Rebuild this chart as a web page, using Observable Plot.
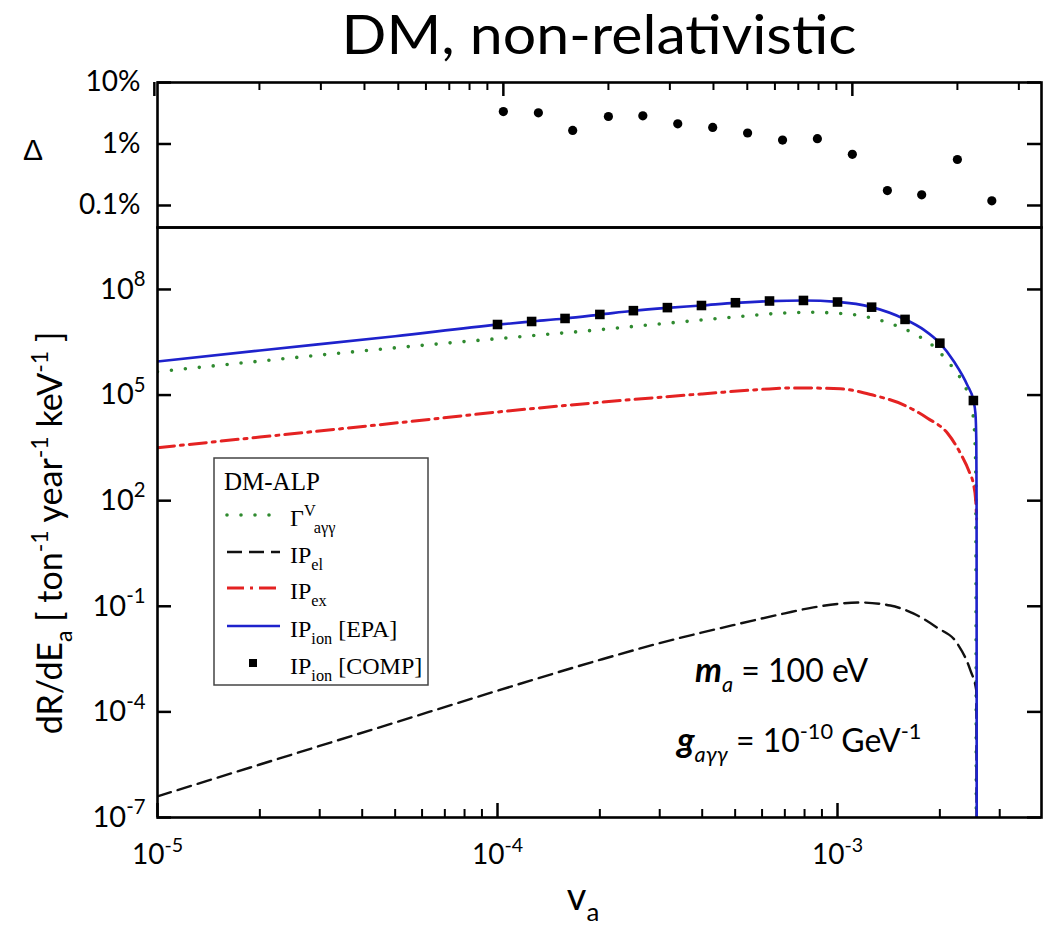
<!DOCTYPE html>
<html><head><meta charset="utf-8">
<script src="https://cdn.jsdelivr.net/npm/d3@7"></script>
<script src="https://cdn.jsdelivr.net/npm/@observablehq/plot@0.6"></script>
<style>
body{margin:0;background:#fff;}
#wrap{position:relative;width:1050px;height:930px;overflow:hidden;background:#fff;}
#wrap svg{position:absolute;left:0;overflow:visible;}
</style></head>
<body><div id="wrap"></div>
<script>
// ---------- data ----------
const xMajor = [1e-5, 1e-4, 1e-3];
const xMajorLabels = ["10^-5", "10^-4", "10^-3"];
const xMinor = [2e-5,3e-5,4e-5,5e-5,6e-5,7e-5,8e-5,9e-5,2e-4,3e-4,4e-4,5e-4,6e-4,7e-4,8e-4,9e-4,2e-3,3e-3];
const yMainTicks = [1e-7, 1e-4, 1e-1, 1e2, 1e5, 1e8];
const yMainLabels = ["10^-7", "10^-4", "10^-1", "10^2", "10^5", "10^8"];
const deltaTicks = [0.001, 0.01, 0.1];
const deltaLabels = ["0.1%", "1%", "10%"];

// top panel: relative difference Delta
const deltaV = [1.0e-4,1.26e-4,1.58e-4,2.0e-4,2.51e-4,3.16e-4,3.98e-4,5.01e-4,6.31e-4,7.94e-4,1.0e-3,1.26e-3,1.58e-3,2.0e-3,2.51e-3];
const deltaVal = [0.0337,0.0321,0.0166,0.0280,0.0287,0.0213,0.0186,0.0151,0.0116,0.0122,0.00678,0.00175,0.00149,0.0056,0.00119];

// IP_ion [COMP] squares
const compV = [1.0e-4,1.26e-4,1.58e-4,2.0e-4,2.51e-4,3.16e-4,3.98e-4,5.01e-4,6.31e-4,7.94e-4,1.0e-3,1.26e-3,1.58e-3,2.0e-3,2.51e-3];
const compRate = [1.01e7,1.23e7,1.5e7,1.95e7,2.5e7,3.05e7,3.5e7,4.2e7,4.7e7,4.87e7,4.4e7,3.14e7,1.41e7,2.98e6,7.0e4];

// IP_ion [EPA] blue
const ionV = [1e-5,2e-5,5e-5,1e-4,1.26e-4,1.58e-4,2e-4,2.51e-4,3.16e-4,3.98e-4,5.01e-4,6.31e-4,7.94e-4,1e-3,1.26e-3,1.58e-3,1.8e-3,2e-3,2.2e-3,2.41e-3,2.51e-3,2.545e-3,2.56e-3,2.565e-3,2.567e-3];
const ionRate = [9.0e5,1.85e6,4.7e6,1.0e7,1.23e7,1.5e7,1.93e7,2.48e7,3.0e7,3.5e7,4.15e7,4.65e7,4.85e7,4.45e7,3.15e7,1.42e7,7.0e6,3.0e6,9.0e5,1.9e5,7.0e4,3.0e4,5.0e3,1.0e2,1e-7];

// Gamma^V_{a gamma gamma} green dotted
const gamV = [1e-5,2e-5,5e-5,1e-4,2e-4,3e-4,5e-4,7e-4,8.5e-4,1e-3,1.17e-3,1.43e-3,1.72e-3,1.91e-3,2.11e-3,2.3e-3,2.41e-3,2.51e-3,2.55e-3,2.56e-3];
const gamRate = [4.6e5,9.2e5,2.2e6,4.0e6,7.2e6,1.05e7,1.65e7,2.15e7,2.25e7,2.1e7,1.8e7,1.08e7,4.9e6,2.5e6,9.0e5,3.0e5,1.2e5,2.3e4,1.0e3,1e-7];

// IP_ex red dash-dot
const exV = [1e-5,2e-5,5e-5,1e-4,2e-4,4e-4,6e-4,7.5e-4,1.02e-3,1.27e-3,1.57e-3,1.84e-3,2.11e-3,2.3e-3,2.45e-3,2.51e-3,2.55e-3,2.565e-3];
const exRate = [3.2e3,6.4e3,1.6e4,3.3e4,6.2e4,1.08e5,1.45e5,1.6e5,1.5e5,1.0e5,5.2e4,2.2e4,8.1e3,2.2e3,6.0e2,3.0e2,1.0e2,3.0e1];

// IP_el black dashed
const elV = [1e-5,2e-5,5e-5,1e-4,2e-4,3e-4,5e-4,7e-4,8.5e-4,1.17e-3,1.43e-3,1.67e-3,1.96e-3,2.25e-3,2.46e-3,2.56e-3,2.565e-3];
const elRate = [4e-7,3.2e-6,5e-5,4e-4,3e-3,9e-3,3e-2,6.3e-2,9.3e-2,0.128,0.105,0.063,0.025,8.8e-3,1.5e-3,4e-4,1e-7];

(function () {
// ---------- tables ----------
const rows = (xs, ys) => xs.map((v, i) => ({v, r: ys[i]}));
const deltaRows = rows(deltaV, deltaVal);
const compRows = rows(compV, compRate);
const ionRows = rows(ionV, ionRate);
const gamRows = rows(gamV, gamRate);
const exRows = rows(exV, exRate);
const elRows = rows(elV, elRate);

const C = {green: "#2f8a2f", red: "#e42222", blue: "#1e22cc", black: "#111"};
const xDomain = [1e-5, Math.pow(10, -2.4)];
// the Delta panel in the original figure is pasted slightly stretched/offset horizontally
const xDomainTop = [Math.pow(10, -4.991), Math.pow(10, -2.458)];
const baseStyle = {fontFamily: "Lato, sans-serif", fontSize: "28px", color: "black", background: "transparent", overflow: "visible"};
const mainH = 590, topH = 145, frameW = 884;

const wrap = document.getElementById("wrap");

// ---------- main panel ----------
const mainPlot = Plot.plot({
  width: 1050, height: 705, marginTop: 2, marginBottom: 113, marginLeft: 157, marginRight: 9,
  style: baseStyle,
  x: {type: "log", domain: xDomain},
  y: {type: "log", domain: [1e-7, Math.pow(10, 9.76)]},
  marks: [
    Plot.line(gamRows, {x: "v", y: "r", stroke: C.green, strokeWidth: 3.6, strokeDasharray: "0 14", strokeLinecap: "round", curve: "monotone-x", clip: true}),
    Plot.line(elRows, {x: "v", y: "r", stroke: C.black, strokeWidth: 2.4, strokeDasharray: "14 7", curve: "monotone-x", clip: true}),
    Plot.line(exRows, {x: "v", y: "r", stroke: C.red, strokeWidth: 3, strokeDasharray: "17 6 3 6", curve: "monotone-x", clip: true}),
    Plot.line(ionRows, {x: "v", y: "r", stroke: C.blue, strokeWidth: 2.6, curve: "monotone-x", clip: true}),
    Plot.dot(compRows, {x: "v", y: "r", symbol: "square", r: 5.4, fill: "black", stroke: "none"}),
    Plot.tickX(xMajor, {x: d => d, insetTop: mainH - 14, strokeWidth: 2.5}),
    Plot.tickX(xMinor, {x: d => d, insetTop: mainH - 8, strokeWidth: 2}),
    Plot.tickY(yMainTicks, {y: d => d, insetRight: frameW - 14, strokeWidth: 2.5}),
    Plot.tickY(yMainTicks, {y: d => d, insetLeft: frameW - 14, strokeWidth: 2.5}),
    Plot.axisX({ticks: xMajor, tickSize: 0, tickPadding: 27, fontSize: 28, label: null, tickFormat: d => xMajorLabels[xMajor.indexOf(d)]}),
    Plot.axisY({ticks: yMainTicks, tickSize: 0, tickPadding: 12, fontSize: 29, label: null, tickFormat: d => yMainLabels[yMainTicks.indexOf(d)]}),
    Plot.frame({stroke: "black", strokeWidth: 2.6})
  ]
});
mainPlot.style.top = "225px";
wrap.appendChild(mainPlot);

// ---------- top panel ----------
const topPlot = Plot.plot({
  width: 1050, height: 230, marginTop: 82, marginBottom: 3, marginLeft: 157, marginRight: 9,
  style: baseStyle,
  x: {type: "log", domain: xDomainTop, axis: null},
  y: {type: "log", domain: [Math.pow(10, -3.358), 0.1]},
  marks: [
    Plot.dot(deltaRows, {x: "v", y: "r", r: 4.6, fill: "black", stroke: "none"}),
    Plot.tickX(xMajor, {x: d => d, insetBottom: topH - 14, strokeWidth: 2.5}),
    Plot.tickX(xMinor, {x: d => d, insetBottom: topH - 8, strokeWidth: 2}),
    Plot.tickY(deltaTicks, {y: d => d, insetRight: frameW - 14, strokeWidth: 2.5}),
    Plot.tickY(deltaTicks, {y: d => d, insetLeft: frameW - 14, strokeWidth: 2.5}),
    Plot.axisY({ticks: deltaTicks, tickSize: 0, tickPadding: 17, fontSize: 28, label: null, tickFormat: d => deltaLabels[deltaTicks.indexOf(d)]}),
    Plot.frame({stroke: "black", strokeWidth: 2.6})
  ]
});
topPlot.style.top = "0px";
wrap.appendChild(topPlot);

// superscript tick labels like "10^-5"
function supify(svg) {
  d3.select(svg).selectAll("text").each(function () {
    const t = this.textContent;
    const m = t.match(/^10\^(.+)$/);
    if (!m) return;
    const s = d3.select(this);
    s.text(null);
    s.append("tspan").text("10");
    s.append("tspan").attr("dy", "-0.62em").attr("font-size", "0.7em").text(m[1]);
  });
}
supify(mainPlot);

// ---------- overlay: title, labels, legend, annotations ----------
const ov = d3.create("svg").attr("width", 1050).attr("height", 930).style("top", "0px").style("pointer-events", "none");
function rich(sel, segs, base) {
  let cur = 0;
  segs.forEach(([t, k, st]) => {
    const target = k === "sup" ? -0.42 * base : k === "sub" ? 0.3 * base : 0;
    const ts = sel.append("tspan").text(t);
    if (k) ts.attr("font-size", base * 0.68);
    if (target !== cur) ts.attr("dy", target - cur);
    if (st) Object.entries(st).forEach(([a, b]) => ts.attr(a, b));
    cur = target;
  });
}
const LATO = "Lato, sans-serif", SERIF = "'Liberation Serif', 'Times New Roman', serif";

ov.append("text").attr("x", 599).attr("y", 54).attr("text-anchor", "middle")
  .attr("font-family", LATO).attr("font-size", 54)
  .attr("textLength", 515).attr("lengthAdjust", "spacingAndGlyphs").text("DM, non-relativistic");

ov.append("text").attr("x", 33).attr("y", 160).attr("text-anchor", "middle")
  .attr("font-family", "'Liberation Sans', Arial, sans-serif").attr("font-size", 30).text("Δ");

const yt = ov.append("text").attr("transform", "translate(62,533) rotate(-90)").attr("text-anchor", "middle")
  .attr("font-family", LATO).attr("font-size", 34);
rich(yt, [["dR/dE"], ["a", "sub"], [" [ ton"], ["-1", "sup"], [" year"], ["-1", "sup"], [" keV"], ["-1", "sup"], [" ]"]], 34);

const xt = ov.append("text").attr("x", 583).attr("y", 910).attr("text-anchor", "middle")
  .attr("font-family", LATO).attr("font-size", 38);
rich(xt, [["v"], ["a", "sub"]], 38);

// legend
const lg = ov.append("g");
lg.append("rect").attr("x", 214).attr("y", 458).attr("width", 214).attr("height", 227)
  .attr("fill", "white").attr("stroke", "#444").attr("stroke-width", 1.5);
lg.append("text").attr("x", 224).attr("y", 490).attr("font-family", SERIF).attr("font-size", 25).text("DM-ALP");
const legendRows = [
  {y: 515, stroke: C.green, dash: "0 14", w: 3.6, cap: "round", segs: [["Γ"], ["V", "sup"], ["aγγ", "sub"]]},
  {y: 552, stroke: C.black, dash: "15 7", w: 2.4, segs: [["IP"], ["el", "sub"]]},
  {y: 588, stroke: C.red, dash: "17 6 3 6", w: 3, segs: [["IP"], ["ex", "sub"]]},
  {y: 626, stroke: C.blue, dash: null, w: 2.6, segs: [["IP"], ["ion", "sub"], [" [EPA]"]]},
  {y: 663, square: true, segs: [["IP"], ["ion", "sub"], [" [COMP]"]]}
];
legendRows.forEach(r => {
  if (r.square) {
    lg.append("rect").attr("x", 249).attr("y", r.y - 4).attr("width", 8).attr("height", 8).attr("fill", "black");
  } else {
    lg.append("line").attr("x1", 227).attr("x2", 280).attr("y1", r.y).attr("y2", r.y)
      .attr("stroke", r.stroke).attr("stroke-width", r.w).attr("stroke-dasharray", r.dash)
      .attr("stroke-linecap", r.cap || "butt");
  }
  const t = lg.append("text").attr("x", 290).attr("y", r.y + 11).attr("font-family", SERIF).attr("font-size", 24);
  rich(t, r.segs, 24);
});

// annotations
const a1 = ov.append("text").attr("x", 695).attr("y", 682).attr("font-family", LATO).attr("font-size", 32);
rich(a1, [["m", null, {"font-style": "italic", "font-weight": "bold", "font-size": 34}], ["a", "sub", {"font-style": "italic"}], [" = 100 eV"]], 32);
const a2 = ov.append("text").attr("x", 677).attr("y", 752).attr("font-family", LATO).attr("font-size", 32);
rich(a2, [["g", null, {"font-style": "italic", "font-weight": "bold", "font-size": 35}], ["aγγ", "sub", {"font-style": "italic"}], [" = 10"], ["-10", "sup"], [" GeV"], ["-1", "sup"]], 32);

wrap.appendChild(ov.node());
})();
</script>
</body></html>
